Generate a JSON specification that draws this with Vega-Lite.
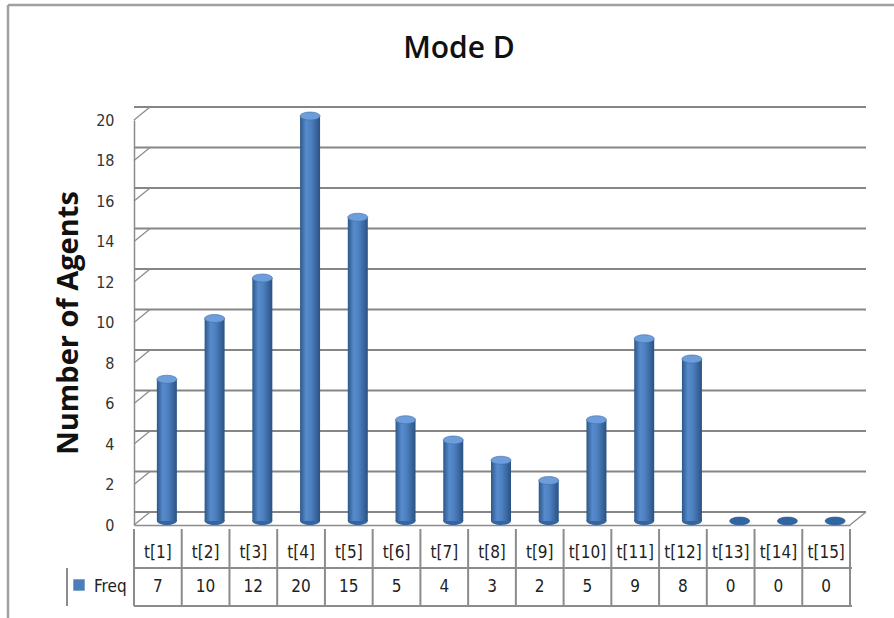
{
  "$schema": "https://vega.github.io/schema/vega-lite/v6.json",
  "autosize": "none",
  "width": 716,
  "height": 405,
  "padding": {"left": 134, "top": 120, "right": 44, "bottom": 93},
  "background": "white",
  "config": {"view": {"stroke": null}, "font": "Lato"},
  "title": {"text": "Mode D", "font": "Open Sans", "fontSize": 30, "fontWeight": 600, "color": "#111111", "anchor": "middle", "frame": "group", "dx": -33, "baseline": "alphabetic", "offset": -84},
  "datasets": {
    "bars": [
      {"t": "t[1]", "freq": 7},
      {"t": "t[2]", "freq": 10},
      {"t": "t[3]", "freq": 12},
      {"t": "t[4]", "freq": 20},
      {"t": "t[5]", "freq": 15},
      {"t": "t[6]", "freq": 5},
      {"t": "t[7]", "freq": 4},
      {"t": "t[8]", "freq": 3},
      {"t": "t[9]", "freq": 2},
      {"t": "t[10]", "freq": 5},
      {"t": "t[11]", "freq": 9},
      {"t": "t[12]", "freq": 8},
      {"t": "t[13]", "freq": 0},
      {"t": "t[14]", "freq": 0},
      {"t": "t[15]", "freq": 0}
    ],
    "ticks": [{"v": 0}, {"v": 2}, {"v": 4}, {"v": 6}, {"v": 8}, {"v": 10}, {"v": 12}, {"v": 14}, {"v": 16}, {"v": 18}, {"v": 20}],
    "one": [{"label": "Freq"}]
  },
  "data": {"name": "bars"},
  "layer": [
    {
      "data": {"name": "ticks"},
      "mark": {"type": "rule", "color": "#868686", "strokeWidth": 1.8, "xOffset": 16, "x2Offset": 16, "yOffset": -13, "y2Offset": -13},
      "encoding": {
        "y": {"field": "v", "type": "quantitative", "scale": {"domain": [0, 20], "nice": false, "zero": true},
          "axis": {"values": [0, 2, 4, 6, 8, 10, 12, 14, 16, 18, 20], "grid": false, "ticks": false, "domain": true, "domainColor": "#8c8c8c", "domainWidth": 1.5, "labelFont": "Liberation Sans Narrow, DejaVu Sans Condensed, Lato", "labelFontSize": 16, "labelColor": "#333333", "labelPadding": 20, "title": "Number of Agents", "titleFont": "Open Sans", "titleFontSize": 29, "titleFontWeight": "bold", "titleColor": "#111111", "titlePadding": 12}}
      }
    },
    {
      "data": {"name": "ticks"},
      "mark": {"type": "point", "shape": "M0,0L1,-0.8125", "size": 1024, "filled": false, "stroke": "#8c8c8c", "strokeWidth": 1.3, "opacity": 1},
      "encoding": {
        "x": {"datum": "t[1]", "bandPosition": 0},
        "y": {"field": "v", "type": "quantitative"}
      }
    },
    {
      "data": {"name": "one"},
      "mark": {"type": "point", "shape": "M0,0L1,-0.8125", "size": 1024, "filled": false, "stroke": "#8c8c8c", "strokeWidth": 1.3, "opacity": 1},
      "encoding": {
        "x": {"datum": "t[15]", "bandPosition": 1},
        "y": {"datum": 0}
      }
    },
    {
      "mark": {"type": "point", "shape": "M-1,0A1,0.4,0,1,0,1,0A1,0.4,0,1,0,-1,0Z", "size": 400, "filled": true, "opacity": 1, "fill": "#35659f", "xOffset": 9, "yOffset": -4},
      "encoding": {
        "x": {"field": "t", "type": "nominal", "sort": null},
        "y": {"datum": 0}
      }
    },
    {
      "mark": {"type": "bar", "width": 20, "xOffset": 9, "yOffset": -4, "y2Offset": -4,
        "fill": {"gradient": "linear", "x1": 0, "y1": 0, "x2": 1, "y2": 0, "stops": [
          {"offset": 0, "color": "#2c5789"},
          {"offset": 0.3, "color": "#578bcc"},
          {"offset": 0.55, "color": "#4d80c0"},
          {"offset": 1, "color": "#2a5283"}]}},
      "encoding": {
        "x": {"field": "t", "type": "nominal", "sort": null,
          "scale": {"type": "band", "domain": ["t[1]", "t[2]", "t[3]", "t[4]", "t[5]", "t[6]", "t[7]", "t[8]", "t[9]", "t[10]", "t[11]", "t[12]", "t[13]", "t[14]", "t[15]"], "paddingInner": 0, "paddingOuter": 0},
          "axis": {"orient": "bottom", "labels": false, "ticks": false, "title": null, "domain": true, "domainColor": "#8c8c8c", "domainWidth": 1.5}},
        "y": {"field": "freq", "type": "quantitative"}
      }
    },
    {
      "mark": {"type": "point", "shape": "M-1,0A1,0.4,0,1,0,1,0A1,0.4,0,1,0,-1,0Z", "size": 400, "filled": true, "opacity": 1, "xOffset": 9, "yOffset": -4, "stroke": "#3f6faa", "strokeWidth": 0.6},
      "encoding": {
        "x": {"field": "t", "type": "nominal", "sort": null},
        "y": {"field": "freq", "type": "quantitative"},
        "fill": {"condition": {"test": "datum.freq == 0", "value": "#3264a0"}, "value": "#6d9ddb"}
      }
    },
    {
      "mark": {"type": "rule", "color": "#8c8c8c", "strokeWidth": 2, "yOffset": 4, "y2Offset": 81},
      "encoding": {
        "x": {"field": "t", "type": "nominal", "sort": null, "bandPosition": 0},
        "y": {"datum": 0},
        "y2": {"datum": 0}
      }
    },
    {
      "data": {"name": "one"},
      "mark": {"type": "rule", "color": "#8c8c8c", "strokeWidth": 2, "yOffset": 4, "y2Offset": 81},
      "encoding": {
        "x": {"datum": "t[15]", "bandPosition": 1},
        "y": {"datum": 0},
        "y2": {"datum": 0}
      }
    },
    {
      "data": {"name": "one"},
      "mark": {"type": "rule", "color": "#8c8c8c", "strokeWidth": 2, "xOffset": -67, "yOffset": 43, "y2Offset": 81},
      "encoding": {
        "x": {"datum": "t[1]", "bandPosition": 0},
        "y": {"datum": 0},
        "y2": {"datum": 0}
      }
    },
    {
      "data": {"name": "one"},
      "mark": {"type": "rule", "color": "#8c8c8c", "strokeWidth": 2, "xOffset": 2, "x2Offset": -68, "yOffset": 43},
      "encoding": {
        "y": {"datum": 0}
      }
    },
    {
      "data": {"name": "one"},
      "mark": {"type": "rule", "color": "#8c8c8c", "strokeWidth": 2, "xOffset": 2, "x2Offset": -68, "yOffset": 81},
      "encoding": {
        "y": {"datum": 0}
      }
    },
    {
      "mark": {"type": "text", "font": "Liberation Sans Narrow, DejaVu Sans Condensed, Lato", "fontSize": 17, "color": "#222222", "yOffset": 28, "baseline": "middle"},
      "encoding": {
        "x": {"field": "t", "type": "nominal", "sort": null},
        "y": {"datum": 0},
        "text": {"field": "t"}
      }
    },
    {
      "mark": {"type": "text", "font": "Liberation Sans Narrow, DejaVu Sans Condensed, Lato", "fontSize": 17, "color": "#222222", "yOffset": 62, "baseline": "middle"},
      "encoding": {
        "x": {"field": "t", "type": "nominal", "sort": null},
        "y": {"datum": 0},
        "text": {"field": "freq"}
      }
    },
    {
      "data": {"name": "one"},
      "mark": {"type": "text", "font": "Liberation Sans Narrow, DejaVu Sans Condensed, Lato", "fontSize": 17, "color": "#222222", "yOffset": 62, "xOffset": -40, "align": "left", "baseline": "middle"},
      "encoding": {
        "x": {"datum": "t[1]", "bandPosition": 0},
        "y": {"datum": 0},
        "text": {"field": "label"}
      }
    },
    {
      "data": {"name": "one"},
      "mark": {"type": "point", "shape": "square", "size": 130, "filled": true, "opacity": 1, "color": "#4a7ebb", "yOffset": 60, "xOffset": -55},
      "encoding": {
        "x": {"datum": "t[1]", "bandPosition": 0},
        "y": {"datum": 0}
      }
    },
    {
      "data": {"name": "one"},
      "mark": {"type": "rule", "color": "#a0a0a0", "strokeWidth": 2.5, "xOffset": -126, "x2Offset": 68, "yOffset": -115, "y2Offset": -115},
      "encoding": {
        "x": {"datum": "t[1]", "bandPosition": 0},
        "x2": {"datum": "t[15]"},
        "y": {"datum": 20},
        "y2": {"datum": 20}
      }
    },
    {
      "data": {"name": "one"},
      "mark": {"type": "rule", "color": "#a0a0a0", "strokeWidth": 2.5, "xOffset": -126, "yOffset": -115, "y2Offset": 93},
      "encoding": {
        "x": {"datum": "t[1]", "bandPosition": 0},
        "y": {"datum": 20},
        "y2": {"datum": 0}
      }
    }
  ]
}
